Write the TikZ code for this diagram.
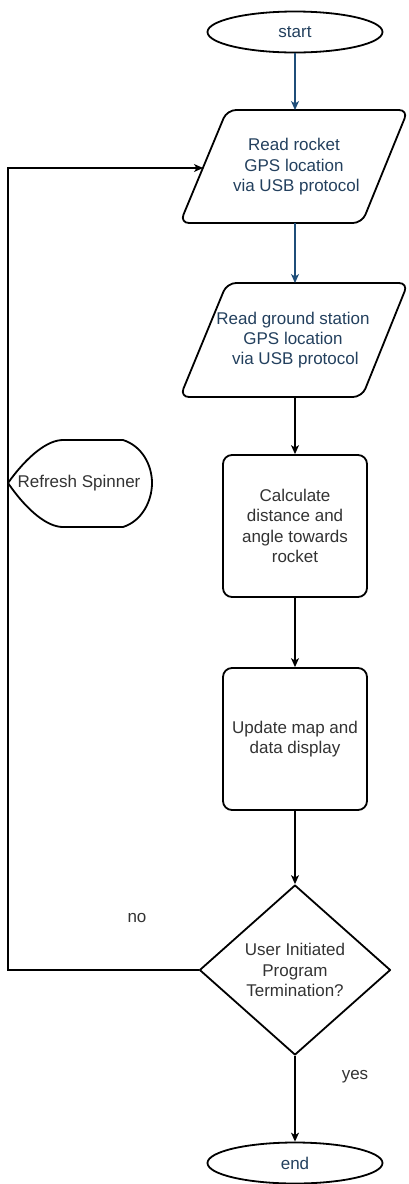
\documentclass[tikz,border=0pt]{standalone}
\usepackage{fontspec}
\setmainfont{Liberation Sans}
\usetikzlibrary{shapes.geometric,arrows.meta}
\definecolor{navy}{HTML}{1F4E79}
\definecolor{navytext}{HTML}{23405E}
\definecolor{graytext}{HTML}{333333}
\tikzset{
  txt/.style={font=\fontsize{17}{20.4}\selectfont, align=center, inner sep=0pt},
  bluetxt/.style={txt, text=navytext},
  graytxt/.style={txt, text=graytext},
  shapeline/.style={draw=black, line width=1.8pt, line join=round},
  term/.style={shapeline, ellipse, minimum width=175pt, minimum height=41pt, inner sep=0pt, bluetxt},
  procbox/.style={shapeline, rounded corners=9pt, minimum width=144pt, minimum height=142pt, graytxt},
  arr/.style={-{Stealth[length=9pt,width=8pt,inset=2.5pt]}, line width=1.1pt},
  bluearr/.style={arr, draw=navy},
  blackarr/.style={arr, draw=black},
}
\begin{document}
\begin{tikzpicture}[x=1pt,y=-1pt]
\useasboundingbox (0,0) rectangle (409,1184);
\fill[white] (0,0) rectangle (409,1184);

% start / end
\node[term] (start) at (295,32) {start};
\node[term] (end) at (295,1163) {end};

% parallelogram 1
\node[bluetxt] (p1) at (294,167) {Read rocket\\GPS location\\\ via USB protocol};
\coordinate (p1top) at (295,110);
\coordinate (p1bot) at (295,223);
\coordinate (p1in) at (203,168);
\draw[shapeline, rounded corners=9pt] (227,110) -- (408,110) -- (362,223) -- (180,223) -- cycle;

% parallelogram 2
\node[bluetxt] (p2) at (293,340) {Read ground station\\GPS location\\\ via USB protocol};
\coordinate (p2top) at (295,283);
\coordinate (p2bot) at (295,397);
\draw[shapeline, rounded corners=9pt] (227,283) -- (408,283) -- (362,397) -- (180,397) -- cycle;

% process boxes
\node[procbox] (calc) at (295,526) {Calculate\\distance and\\angle towards\\rocket};
\node[procbox] (upd) at (295,739) {Update map and\\data display};

% decision
\node[shapeline, diamond, minimum width=191pt, minimum height=170pt, inner sep=0pt, graytxt] (dec) at (295,970) {};
\node[graytxt] (dectxt) at (295,970) {User Initiated\\Program\\Termination?};

% refresh spinner (display shape)
\draw[shapeline, fill=white] (8,483) .. controls (28,455) and (48,440) .. (63,440) -- (123,440)
  .. controls (142,446) and (152,465) .. (152,483)
  .. controls (152,501) and (142,521) .. (123,527) -- (63,527)
  .. controls (48,527) and (28,512) .. (8,483) -- cycle;
\node[graytxt] (spin) at (79,483) {Refresh Spinner};

% connectors
\draw[bluearr] (start.south) -- (p1top);
\draw[bluearr] (p1bot) -- (p2top);
\draw[blackarr] (p2bot) -- (calc.north);
\draw[blackarr] (calc.south) -- (upd.north);
\draw[blackarr] (upd.south) -- (dec.north);
\draw[blackarr] (dec.south) -- (end.north);
\coordinate (loopb) at (8,970);
\draw[blackarr] (dec.west) -- (loopb) |- (p1in);

% labels
\node[graytxt] (no) at (137,918) {no};
\node[graytxt] (yes) at (355,1077) {yes};
\end{tikzpicture}
\end{document}
